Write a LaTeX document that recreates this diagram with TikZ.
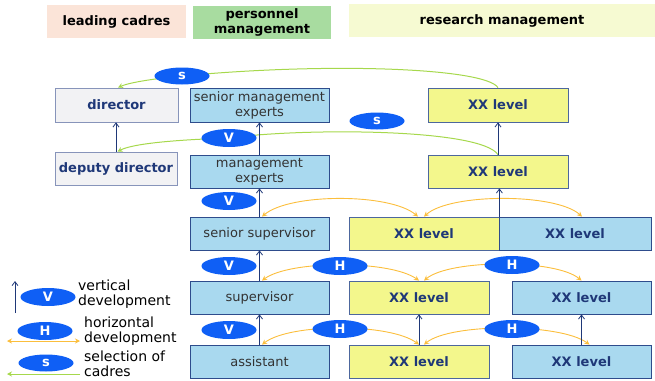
\documentclass[tikz,border=0pt]{standalone}
\usepackage{fontspec}
\setmainfont{DejaVu Sans}
\usetikzlibrary{shapes.geometric,arrows.meta}
\pgfdeclarelayer{bg}
\pgfsetlayers{bg,main}

\definecolor{boxblue}{HTML}{A9D9EF}
\definecolor{boxyellow}{HTML}{F3F78C}
\definecolor{boxgray}{HTML}{F2F2F4}
\definecolor{hdpeach}{HTML}{FBE4D8}
\definecolor{hdgreen}{HTML}{A8DCA0}
\definecolor{hdyellow}{HTML}{F6FAD2}
\definecolor{navy}{HTML}{1F3878}
\definecolor{edgeblue}{HTML}{2E4C8C}
\definecolor{edgegray}{HTML}{8794BA}
\definecolor{tagblue}{HTML}{0F5FF5}
\definecolor{hline}{HTML}{FBBE3C}
\definecolor{sline}{HTML}{A6D84C}
\definecolor{darktext}{HTML}{333333}

\tikzset{
  base/.style={rectangle, inner sep=0pt, minimum height=33pt, align=center,
    font=\fontsize{13}{15}\selectfont},
  bluebox/.style={base, fill=boxblue, draw=edgeblue, line width=0.8pt, text=darktext},
  yelbox/.style={base, fill=boxyellow, draw=edgeblue!85, line width=0.8pt, text=navy,
    font=\fontsize{13}{15}\selectfont\bfseries},
  graybox/.style={base, fill=boxgray, draw=edgegray, line width=0.8pt, text=navy,
    font=\fontsize{13}{15}\selectfont\bfseries},
  header/.style={rectangle, inner sep=0pt, minimum height=33pt, align=center, text=black,
    font=\fontsize{13}{15}\selectfont\bfseries},
  tag/.style={ellipse, fill=tagblue, minimum width=55pt, minimum height=18pt, inner sep=0pt,
    text=white, font=\fontsize{13}{13}\selectfont\bfseries},
  vup/.style={navy, line width=0.8pt, -{Straight Barb[length=4pt,width=6pt]}},
  hcurve/.style={hline, line width=0.9pt,
    {Stealth[length=5pt,width=5pt]}-{Stealth[length=5pt,width=5pt]}},
  scurve/.style={sline, line width=1pt, -{Stealth[length=5pt,width=5pt]}},
  legendtext/.style={anchor=west, align=left, inner sep=0pt, text=black,
    font=\fontsize{14}{15}\selectfont},
}

\begin{document}
\begin{tikzpicture}[x=1pt, y=-1pt]
\useasboundingbox (0,0) rectangle (655,380);

% column headers
\node[header, fill=hdpeach, minimum width=139pt] (lc) at (116.5,21.5) {leading cadres};
\node[header, fill=hdgreen, minimum width=138pt] (pm) at (262,22) {personnel\\management};
\node[header, fill=hdyellow, minimum width=306pt] (rm) at (502,20.5) {research management};

% leading cadres
\node[graybox, minimum width=123pt, minimum height=34pt] (dir) at (116.5,105) {director};
\node[graybox, minimum width=122pt] (dd) at (116,168.5) {deputy director};

% personnel management ladder
\node[bluebox, minimum width=139pt, minimum height=34pt] (sme) at (259.5,105) {senior management\\experts};
\node[bluebox, minimum width=139pt] (me) at (259.5,171.5) {management\\experts};
\node[bluebox, minimum width=139pt] (ss) at (259.5,233.5) {senior supervisor};
\node[bluebox, minimum width=139pt] (sup) at (259.5,297.5) {supervisor};
\node[bluebox, minimum width=139pt] (asst) at (259.5,361.5) {assistant};

% research management ladder
\node[yelbox, minimum width=140pt, minimum height=34pt] (x1) at (498,105) {XX level};
\node[yelbox, minimum width=140pt] (x2) at (498,171.5) {XX level};
\node[yelbox, minimum width=150pt] (x3a) at (424,233.5) {XX level};
\node[bluebox, minimum width=152pt, text=navy, font=\fontsize{13}{15}\selectfont\bfseries] (x3b) at (575,233.5) {XX level};
\node[yelbox, minimum width=140pt] (x4a) at (419,297.5) {XX level};
\node[bluebox, minimum width=139pt, text=navy, font=\fontsize{13}{15}\selectfont\bfseries] (x4b) at (581.5,297.5) {XX level};
\node[yelbox, minimum width=140pt] (x5a) at (419,361.5) {XX level};
\node[bluebox, minimum width=139pt, text=navy, font=\fontsize{13}{15}\selectfont\bfseries] (x5b) at (581.5,361.5) {XX level};

% tags
\node[tag, minimum height=17pt] (s1) at (182,76) {s};
\node[tag, minimum height=17pt] (s2) at (377,121) {s};
\node[tag] (v1) at (229,138) {V};
\node[tag] (v2) at (229,201) {V};
\node[tag] (v3) at (229,266) {V};
\node[tag] (v4) at (229,330) {V};
\node[tag] (h1) at (340,266) {H};
\node[tag] (h2) at (340,329) {H};
\node[tag] (h3) at (512,265) {H};
\node[tag] (h4) at (512,329) {H};

% vertical development
\draw[vup] (dd.north) -- (dd.north |- dir.south);
\draw[vup] (me.north) -- (sme.south);
\draw[vup] (ss.north) -- (me.south);
\draw[vup] (sup.north) -- (ss.south);
\draw[vup] (asst.north) -- (sup.south);
\draw[vup] (x2.north) -- (x1.south);
\draw[vup] (x3a.north east) -- (x3a.north east |- x2.south);
\draw[vup] (x5a.north) -- (x4a.south);
\draw[vup] (x5b.north) -- (x4b.south);

\begin{pgfonlayer}{bg}
  % selection of cadres
  \draw[scurve] (x1.north) .. controls (485,68) and (330,62) .. (s1.center)
    .. controls (150,79) and (128,83) .. ([xshift=1.5pt]dir.north);
  \draw[scurve] (x2.north) .. controls (480,128) and (300,128) .. (v1.center)
    .. controls (170,140) and (132,144) .. ([xshift=1.5pt]dd.north);
  % horizontal development
  \draw[hcurve] ([xshift=2.5pt]ss.north) .. controls (290,193) and (390,193) .. ([xshift=-6pt]x3a.north);
  \draw[hcurve] ([xshift=0pt]x3a.north) .. controls (450,193) and (556,193) .. ([xshift=7pt]x3b.north);
  \draw[hcurve] ([xshift=2.5pt]sup.north) .. controls (290,260) and (390,260) .. (x4a.north);
  \draw[hcurve] ([xshift=5pt]x4a.north) .. controls (450,259) and (556,259) .. (x4b.north);
  \draw[hcurve] ([xshift=2.5pt]asst.north) .. controls (290,323) and (390,323) .. (x5a.north);
  \draw[hcurve] ([xshift=5pt]x5a.north) .. controls (450,323) and (560,323) .. ([xshift=8pt]x5b.north);
\end{pgfonlayer}

% legend
\coordinate (lv0) at (15,313);
\coordinate (lv1) at (15,281);
\coordinate (lh0) at (7,341);
\coordinate (lh1) at (80,341);
\coordinate (ls0) at (80,374);
\coordinate (ls1) at (7,374);
\draw[vup] (lv0) -- (lv1);
\draw[hcurve] (lh0) -- (lh1);
\draw[scurve] (ls0) -- (ls1);
\node[tag] (lgv) at (48,297) {V};
\node[tag] (lgh) at (45,331) {H};
\node[tag, minimum height=17pt] (lgs) at (46,363) {s};
\node[legendtext] (tv) at (78,294) {vertical\\development};
\node[legendtext] (th) at (84,331) {horizontal\\development};
\node[legendtext] (ts) at (84,363.5) {selection of\\cadres};
\end{tikzpicture}
\end{document}
